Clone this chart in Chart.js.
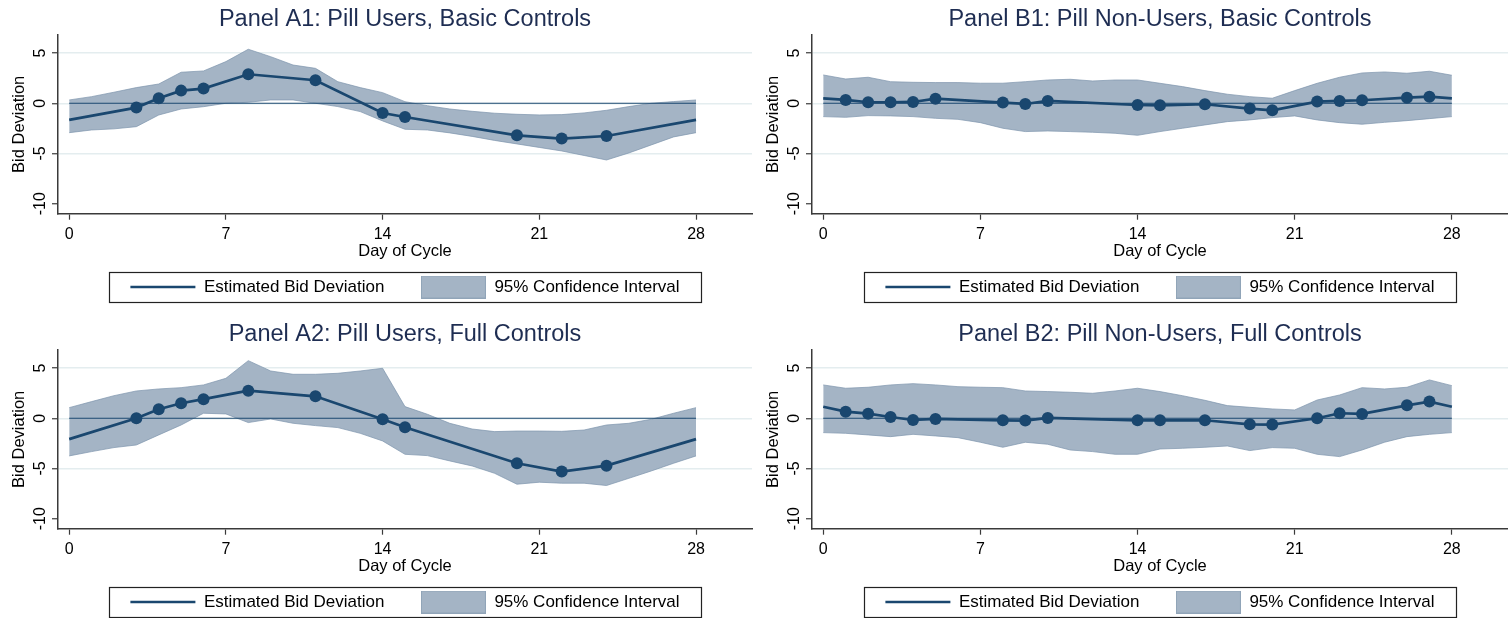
<!DOCTYPE html>
<html><head><meta charset="utf-8">
<script src="https://cdn.jsdelivr.net/npm/chart.js@4.4.1/dist/chart.umd.min.js"></script>
<style>
html,body{margin:0;padding:0;background:#fff;width:1508px;height:618px;overflow:hidden;position:relative}
canvas{position:absolute}
</style></head><body>
<canvas id="a1" width="754" height="315" style="left:0;top:0"></canvas>
<canvas id="b1" width="754" height="315" style="left:754px;top:0"></canvas>
<canvas id="a2" width="754" height="315" style="left:0;top:315px"></canvas>
<canvas id="b2" width="754" height="315" style="left:754px;top:315px"></canvas>
<script>
// ---------- data ----------
const days = [0,1,2,3,4,5,6,7,8,9,10,11,12,13,14,15,16,17,18,19,20,21,22,23,24,25,26,27,28];
const xTicks = [0,7,14,21,28];
const yTicks = [-10,-5,0,5];

const panelTitles = ['Panel A1: Pill Users, Basic Controls','Panel B1: Pill Non-Users, Basic Controls',
                     'Panel A2: Pill Users, Full Controls','Panel B2: Pill Non-Users, Full Controls'];
const seriesNames = ['Estimated Bid Deviation','95% Confidence Interval'];

const a1Days  = [0,3,4,5,6,8,11,14,15,20,22,24,28];
const a1Est   = [-1.66,-0.43,0.5,1.26,1.46,2.89,2.29,-0.97,-1.37,-3.19,-3.52,-3.26,-1.66];
const a1Upper = [0.33,0.66,1.1,1.56,1.92,3.09,3.22,4.15,5.38,4.64,3.81,3.48,2.15,1.56,1.06,0.16,-0.24,-0.57,-0.8,-0.99,-1.1,-1.16,-1.13,-0.96,-0.7,-0.33,0.0,0.17,0.33];
const a1Lower = [-2.93,-2.66,-2.55,-2.33,-1.17,-0.57,-0.34,0.0,0.1,0.33,0.33,0.0,-0.33,-0.83,-1.76,-2.59,-2.66,-2.95,-3.3,-3.7,-4.05,-4.4,-4.75,-5.2,-5.65,-4.95,-4.15,-3.35,-2.93];

const b1Days  = [0,1,2,3,4,5,8,9,10,14,15,17,19,20,22,23,24,26,27,28];
const b1Est   = [0.48,0.33,0.1,0.1,0.13,0.46,0.07,-0.07,0.23,-0.17,-0.2,-0.1,-0.53,-0.7,0.17,0.23,0.3,0.56,0.66,0.48];
const b1Upper = [2.82,2.42,2.59,2.15,2.09,2.06,2.06,2.0,2.0,2.15,2.32,2.39,2.22,2.32,2.32,1.99,1.66,1.26,0.9,0.66,0.5,1.26,1.99,2.59,3.02,3.12,2.99,3.19,2.79];
const b1Lower = [-1.33,-1.4,-1.23,-1.26,-1.33,-1.5,-1.6,-1.93,-2.49,-2.82,-2.76,-2.82,-2.89,-2.99,-3.19,-2.82,-2.49,-2.16,-1.83,-1.66,-1.43,-1.26,-1.66,-1.93,-2.09,-1.9,-1.73,-1.53,-1.33];

const a2Days  = [0,3,4,5,6,8,11,14,15,20,22,24,28];
const a2Est   = [-2.08,0.0,0.9,1.5,1.9,2.75,2.19,-0.1,-0.9,-4.48,-5.31,-4.72,-2.08];
const a2Upper = [1.06,1.66,2.25,2.72,2.92,3.05,3.32,3.98,5.74,4.71,4.38,4.38,4.48,4.71,4.98,1.16,0.4,-0.5,-1.07,-1.33,-1.27,-1.27,-1.3,-1.17,-0.67,-0.5,-0.1,0.5,1.06];
const a2Lower = [-3.75,-3.32,-2.92,-2.66,-1.66,-0.67,0.5,0.43,-0.43,-0.07,-0.5,-0.73,-0.93,-1.5,-2.26,-3.59,-3.72,-4.25,-4.75,-5.48,-6.57,-6.37,-6.47,-6.47,-6.7,-5.98,-5.25,-4.48,-3.75];

const b2Days  = [0,1,2,3,4,5,8,9,10,14,15,17,19,20,22,23,24,26,27,28];
const b2Est   = [1.15,0.66,0.46,0.13,-0.17,-0.07,-0.2,-0.23,0.03,-0.2,-0.2,-0.2,-0.6,-0.63,0.0,0.5,0.43,1.29,1.66,1.15];
const b2Upper = [3.32,2.99,3.09,3.32,3.45,3.32,3.15,3.09,3.05,2.72,2.66,2.59,2.49,2.72,2.99,2.66,2.25,1.79,1.26,1.09,0.93,0.83,1.82,2.32,3.05,2.92,3.09,3.82,3.25];
const b2Lower = [-1.43,-1.5,-1.66,-1.83,-1.6,-1.76,-1.93,-2.39,-2.89,-2.39,-2.59,-3.16,-3.32,-3.59,-3.59,-3.06,-2.99,-2.89,-2.76,-3.22,-2.92,-2.99,-3.59,-3.82,-3.16,-2.39,-1.83,-1.6,-1.43];

// ---------- style ----------
const NAVY = '#1a476f';
const CI_FILL = '#a4b4c5';
const CI_EDGE = 'rgba(125,148,172,0.7)';
const TITLE_COLOR = '#1e2d52';
const GRID = '#e4edef';
const AXIS = '#3a3a3a';
const FONT = "'Liberation Sans', Arial, Helvetica, sans-serif";
Chart.defaults.font.family = FONT;
Chart.defaults.color = '#000';

// legend swatch for the confidence band
const swatch = document.createElement('canvas');
swatch.width = 65; swatch.height = 23;
(function(){
  const c = swatch.getContext('2d');
  c.fillStyle = CI_FILL; c.fillRect(0,0,65,23);
  c.strokeStyle = '#90a4b8'; c.lineWidth = 1; c.strokeRect(0.5,0.5,64,22);
})();

// keep title & legend centred over the plot region
const centerOnArea = {
  id: 'centerOnArea',
  afterLayout(chart) {
    const a = chart.chartArea;
    [chart.titleBlock, chart.legend].forEach(b => {
      if (b) { b.left = a.left; b.right = a.right; b.width = a.right - a.left; }
    });
  }
};
// frame around the legend
const legendFrame = {
  id: 'legendFrame',
  afterDraw(chart) {
    const lg = chart.legend;
    if (!lg || !lg.legendHitBoxes || !lg.legendHitBoxes.length) return;
    const hb = lg.legendHitBoxes;
    const f = hb[0], l = hb[hb.length - 1];
    const cy = f.top + f.height / 2;
    const x0 = Math.round(f.left - 21) + 0.5;
    const x1 = Math.round(l.left + l.width + 21) + 0.5;
    const y0 = Math.round(cy - 15) + 0.5;
    const y1 = Math.round(cy + 15) + 0.5;
    const ctx = chart.ctx;
    ctx.save();
    ctx.strokeStyle = '#222';
    ctx.lineWidth = 1.2;
    ctx.strokeRect(x0, y0, x1 - x0, y1 - y0);
    ctx.restore();
  }
};

function makePanel(id, title, estDays, est, upper, lower, padRight) {
  const last = estDays.length - 1;
  new Chart(document.getElementById(id), {
    type: 'line',
    data: {
      datasets: [
        { label: 'est', data: estDays.map((d, i) => ({x: d, y: est[i]})),
          borderColor: NAVY, borderWidth: 2.7, backgroundColor: NAVY,
          pointRadius: c => (c.dataIndex === 0 || c.dataIndex === last) ? 0 : 6,
          pointBackgroundColor: NAVY, pointBorderWidth: 0, tension: 0, order: 0 },
        { label: 'zero', data: [{x: xTicks[0], y: 0}, {x: xTicks[xTicks.length - 1], y: 0}],
          borderColor: NAVY, borderWidth: 1.2, pointRadius: 0, order: 1 },
        { label: 'upper', data: days.map((d, i) => ({x: d, y: upper[i]})),
          borderColor: CI_EDGE, borderWidth: 1, backgroundColor: CI_FILL,
          fill: '+1', pointRadius: 0, order: 3 },
        { label: 'lower', data: days.map((d, i) => ({x: d, y: lower[i]})),
          borderColor: CI_EDGE, borderWidth: 1, pointRadius: 0, fill: false, order: 2 }
      ]
    },
    options: {
      responsive: false, animation: false, devicePixelRatio: 1,
      events: [],
      layout: { padding: { left: 0, right: padRight, top: 0, bottom: 9.5 } },
      plugins: {
        title: { display: true, text: title, color: TITLE_COLOR,
                 font: { family: FONT, size: 23.5, weight: 'normal' },
                 padding: { top: 5, bottom: 1.8 } },
        legend: {
          display: true, position: 'bottom',
          labels: {
            usePointStyle: true, pointStyleWidth: 65, boxHeight: 17,
            font: { family: FONT, size: 17 }, color: '#000', padding: 36.5,
            generateLabels: () => [
              { text: seriesNames[0], pointStyle: 'line', strokeStyle: NAVY, fillStyle: NAVY,
                lineWidth: 2.6, hidden: false, datasetIndex: 0 },
              { text: seriesNames[1], pointStyle: swatch, strokeStyle: CI_FILL, fillStyle: CI_FILL,
                lineWidth: 0, hidden: false, datasetIndex: 2 }
            ]
          }
        },
        tooltip: { enabled: false }
      },
      scales: {
        x: {
          type: 'linear', min: -0.5, max: 30.5,
          afterBuildTicks: s => { s.ticks = xTicks.map(v => ({value: v})); },
          ticks: { font: { family: FONT, size: 16 }, color: '#000', padding: 5,
                   maxRotation: 0, autoSkip: false },
          grid: { drawOnChartArea: false, tickLength: 6, tickColor: AXIS, tickWidth: 1.2 },
          border: { color: AXIS, width: 1.5 },
          title: { display: true, text: 'Day of Cycle', color: '#000',
                   font: { family: FONT, size: 16.5 }, padding: { top: -7.3, bottom: -19.4 } }
        },
        y: {
          type: 'linear', min: -11, max: 6.8,
          afterBuildTicks: s => { s.ticks = yTicks.map(v => ({value: v})); },
          ticks: { font: { family: FONT, size: 16 }, color: '#000', padding: 0,
                   minRotation: 90, maxRotation: 90, crossAlign: 'center' },
          grid: { color: c => (c.tick && c.tick.value === yTicks[0]) ? 'rgba(0,0,0,0)' : GRID,
                  lineWidth: 1.5, tickLength: 6, tickColor: AXIS, tickWidth: 1.2 },
          border: { color: AXIS, width: 1.5 },
          title: { display: true, text: 'Bid Deviation', color: '#000',
                   font: { family: FONT, size: 16.5 }, padding: { top: 10, bottom: 3 } }
        }
      }
    },
    plugins: [centerOnArea, legendFrame]
  });
}

makePanel('a1', panelTitles[0], a1Days, a1Est, a1Upper, a1Lower, 2);
makePanel('b1', panelTitles[1], b1Days, b1Est, b1Upper, b1Lower, 0);
makePanel('a2', panelTitles[2], a2Days, a2Est, a2Upper, a2Lower, 2);
makePanel('b2', panelTitles[3], b2Days, b2Est, b2Upper, b2Lower, 0);
</script>
</body></html>
